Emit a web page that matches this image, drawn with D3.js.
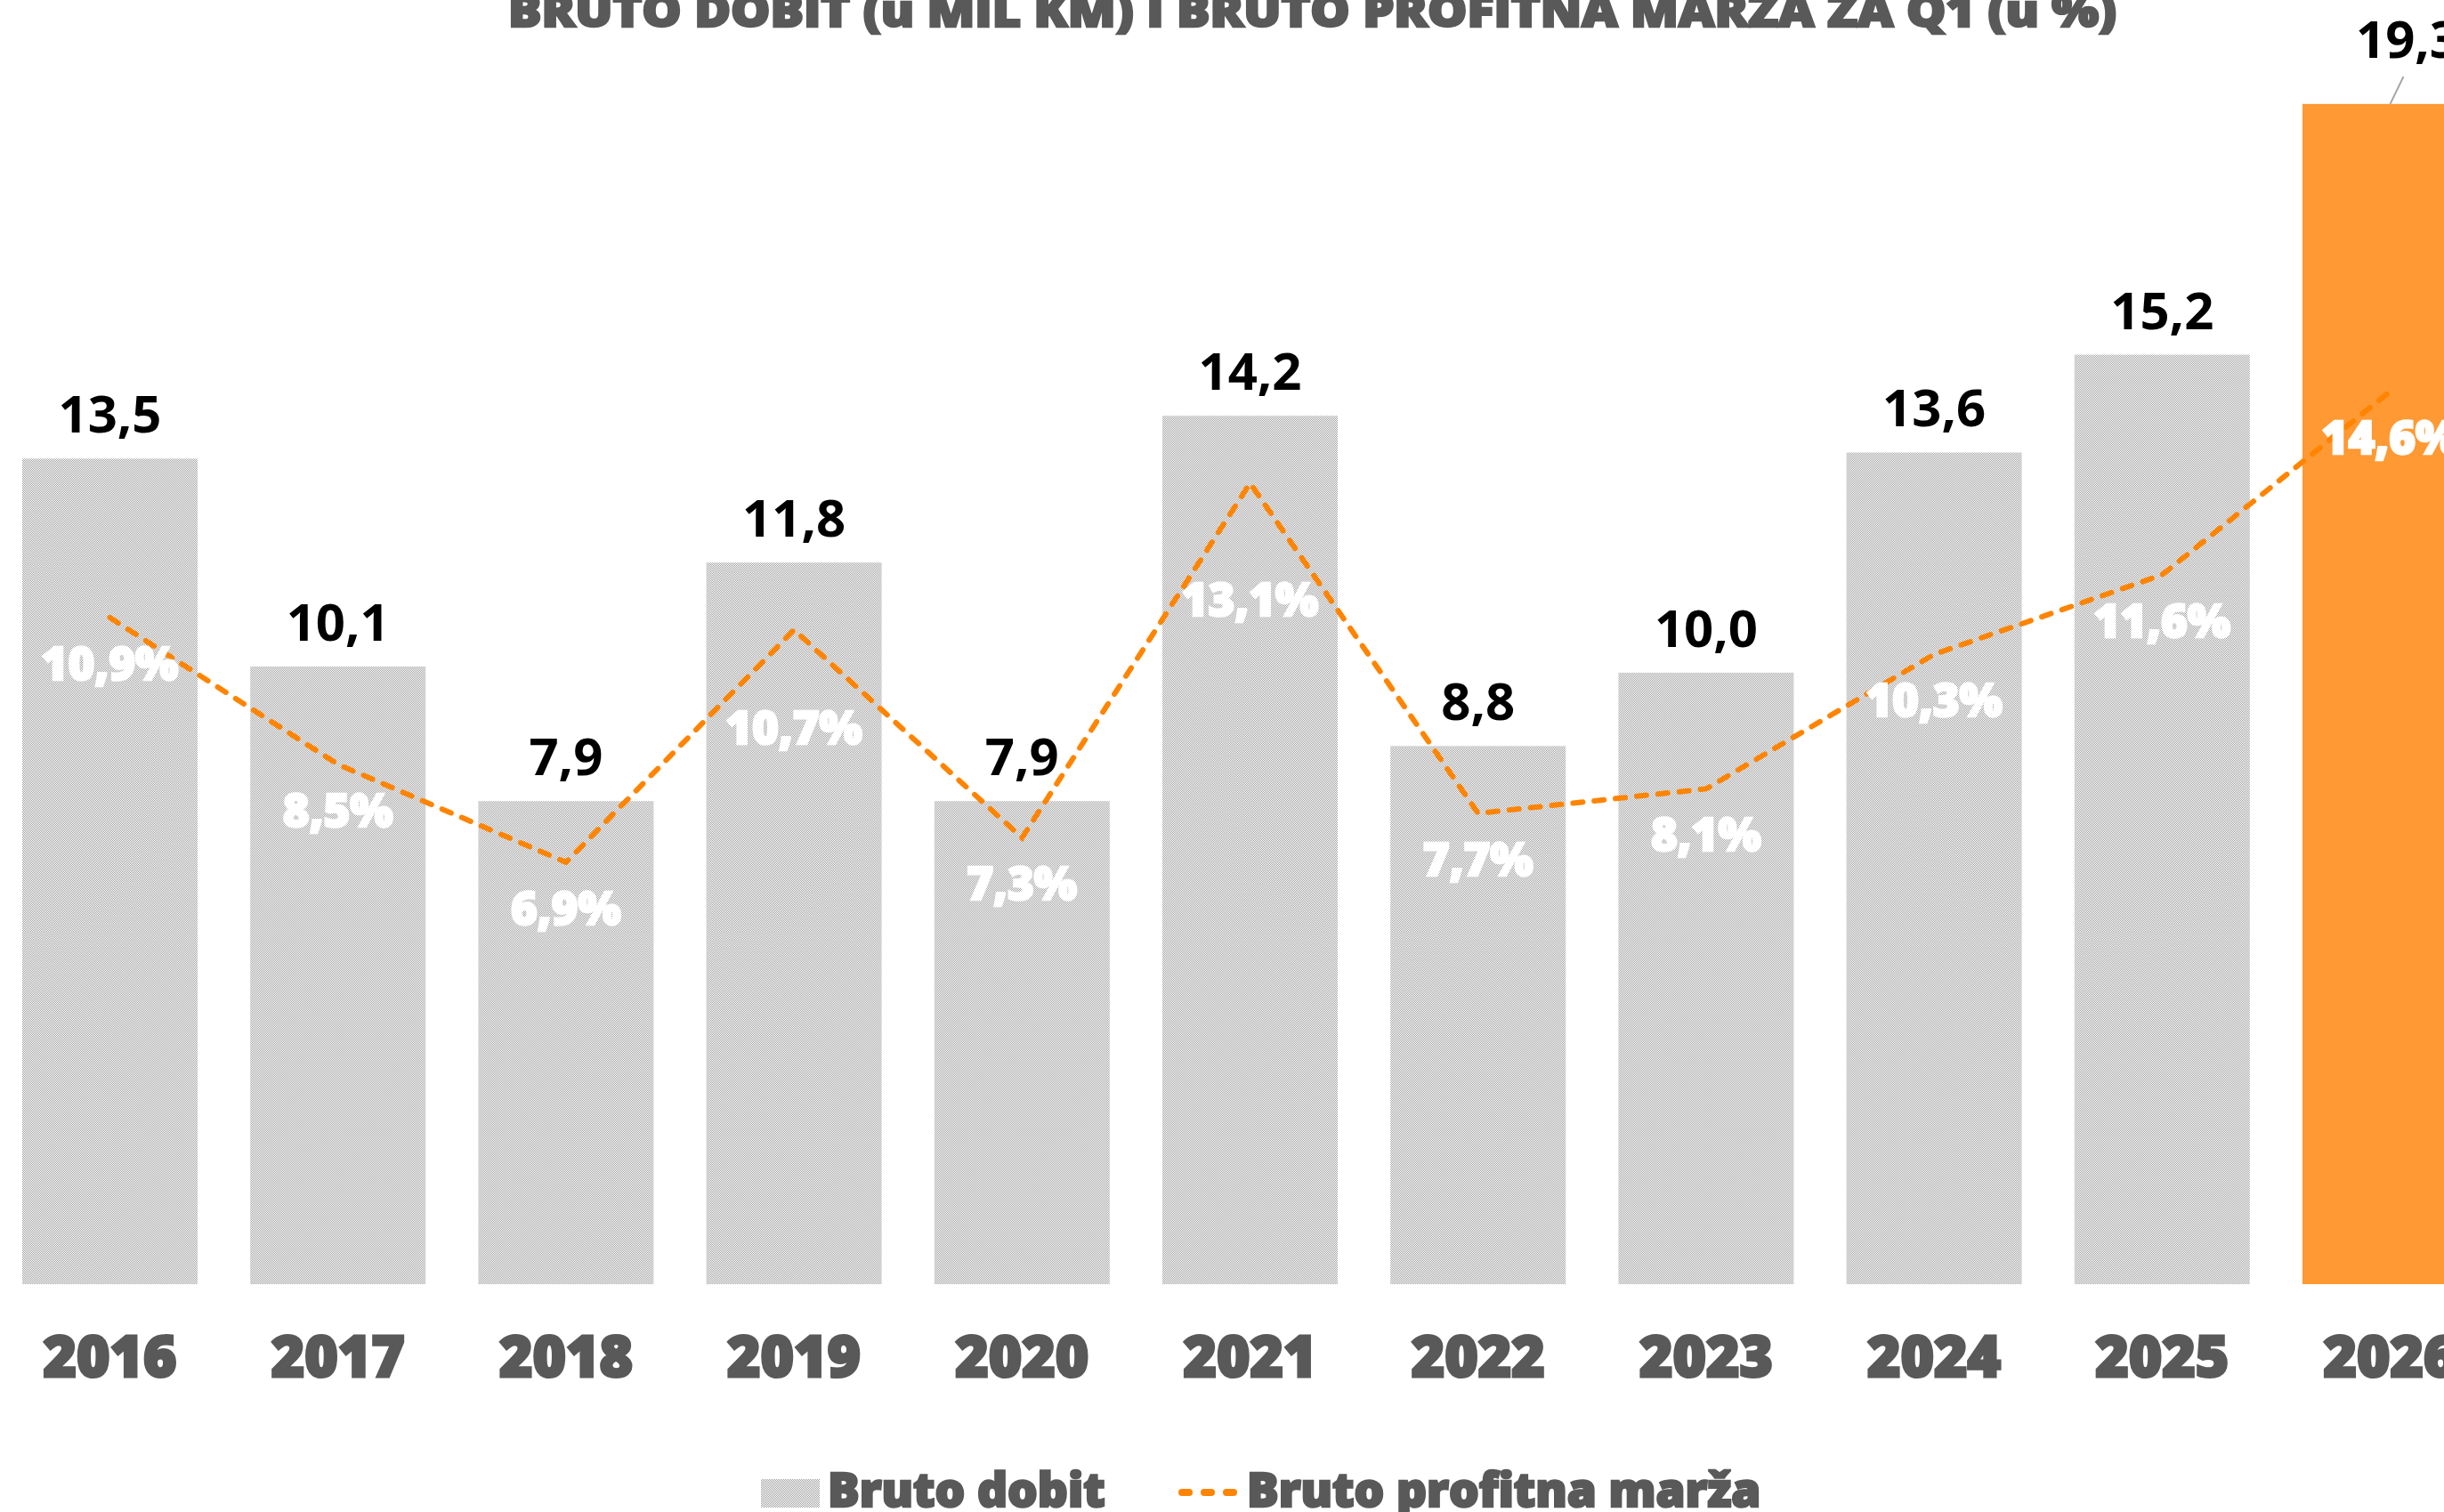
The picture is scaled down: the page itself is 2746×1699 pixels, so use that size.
<!DOCTYPE html>
<html lang="hr">
<head>
<meta charset="utf-8">
<script src="https://d3js.org/d3.v7.min.js"></script>
<title>Bruto dobit i bruto profitna marza</title>
<style>
  body { margin: 0; background: #fff; }
  svg { display: block; }
  .year text { font-family: "Open Sans", sans-serif; font-weight: 800; font-size: 64px; fill: #595959;
    stroke: #595959; stroke-width: 3px; paint-order: stroke; }
  .val { font-family: "Open Sans", sans-serif; font-weight: 700; font-size: 58px; fill: #000; }
  .pct { font-family: "Open Sans", sans-serif; font-weight: 800; font-size: 51px; fill: #fff;
    stroke: #fff; stroke-width: 2.5px; paint-order: stroke; }
  .leg { font-family: "Open Sans", sans-serif; font-weight: 800; font-size: 53px; fill: #595959;
    stroke: #595959; stroke-width: 2.5px; paint-order: stroke; }
</style>
</head>
<body>
<svg id="chart" width="2746" height="1699"></svg>
<script>
// data
const years = ["2016", "2017", "2018", "2019", "2020", "2021", "2022", "2023", "2024", "2025", "2026"];
const grossProfit = [13.5, 10.1, 7.9, 11.8, 7.9, 14.2, 8.8, 10.0, 13.6, 15.2, 19.3];   // mil KM
const grossMargin = [10.9, 8.5, 6.9, 10.7, 7.3, 13.1, 7.7, 8.1, 10.3, 11.6, 14.6];     // %
const titleText = "BRUTO DOBIT (u MIL KM) I BRUTO PROFITNA MARŽA ZA Q1 (u %)";
const legendLabels = ["Bruto dobit", "Bruto profitna marža"];

let svg = d3.select("#chart");
const base = 1443;

// pattern like the excel fill
let defs = svg.append("defs");
let pat = defs.append("pattern").attr("id", "dots")
  .attr("width", 2).attr("height", 2).attr("patternUnits", "userSpaceOnUse");
pat.append("rect").attr("width", 2).attr("height", 2).attr("fill", "#ffffff");
pat.append("rect").attr("width", 1).attr("height", 1).attr("fill", "#a3a3a3");
pat.append("rect").attr("x", 1).attr("y", 1).attr("width", 1).attr("height", 1).attr("fill", "#a3a3a3");

let x = d3.scaleBand().domain(years)
  .range([-4.6, -4.6 + 11 * 256.2])
  .paddingInner(0.231).paddingOuter(0.1155);
let y = d3.scaleLinear().domain([0, 21]).range([base, 0]);

let rows = years.map((yr, i) => ({ year: yr, v: grossProfit[i], m: grossMargin[i], last: i == years.length - 1 }));
const fmt = d => d.toFixed(1).replace(".", ",");

// title (cut at top like the original)
svg.append("text")
  .attr("x", 571).attr("y", 30)
  .attr("textLength", 1807).attr("lengthAdjust", "spacingAndGlyphs")
  .style("font-family", "'Open Sans', sans-serif").style("font-weight", 800)
  .style("font-size", "50px").style("fill", "#595959")
  .style("stroke", "#595959").style("stroke-width", "2.5px").style("paint-order", "stroke")
  .text(titleText);

// bars
svg.append("g").selectAll("rect")
  .data(rows)
  .join("rect")
  .attr("x", d => x(d.year))
  .attr("y", d => y(d.v))
  .attr("width", x.bandwidth())
  .attr("height", d => base - y(d.v))
  .attr("fill", d => d.last ? "#ff9933" : "url(#dots)");

// margin line
let line = d3.line()
  .x(d => x(d.year) + x.bandwidth() / 2)
  .y(d => y(d.m));
svg.append("path")
  .datum(rows)
  .attr("d", line)
  .attr("fill", "none")
  .attr("stroke", "#ff8400")
  .attr("stroke-width", 6)
  .attr("stroke-linecap", "round")
  .attr("stroke-dasharray", "11 13");

// value labels above the bars
svg.append("g").selectAll("text")
  .data(rows.filter(d => !d.last))
  .join("text")
  .attr("class", "val")
  .attr("text-anchor", "middle")
  .attr("x", d => x(d.year) + x.bandwidth() / 2)
  .attr("y", d => y(d.v) - 29)
  .text(d => fmt(d.v));

// 2026 label was moved up with a leader line
let lastRow = rows[rows.length - 1];
let lx = x(lastRow.year) + x.bandwidth() / 2;
svg.append("line")
  .attr("x1", lx + 15).attr("y1", 86)
  .attr("x2", lx).attr("y2", y(lastRow.v))
  .attr("stroke", "#a6a6a6").attr("stroke-width", 2);
svg.append("text").attr("class", "val")
  .attr("x", 2647).attr("y", 65)
  .text(fmt(lastRow.v));

// percentage labels (2019 and 2021 were pushed down in the original)
let nudge = { "2019": 58, "2021": 79 };
svg.append("g").selectAll("text")
  .data(rows)
  .join("text")
  .attr("class", "pct")
  .attr("text-anchor", "middle")
  .attr("x", d => x(d.year) + x.bandwidth() / 2)
  .attr("y", d => y(d.m) + 70 + (nudge[d.year] || 0))
  .text(d => fmt(d.m) + "%");

// year axis
let ax = svg.append("g").attr("class", "year")
  .attr("transform", "translate(0," + base + ")")
  .call(d3.axisBottom(x).tickSize(0));
ax.select(".domain").remove();
ax.selectAll("text").attr("y", 104).attr("dy", 0);

// legend
let leg = svg.append("g");
leg.append("rect").attr("x", 855).attr("y", 1662).attr("width", 66).attr("height", 32).attr("fill", "url(#dots)");
leg.append("text").attr("class", "leg").attr("x", 930).attr("y", 1693).text(legendLabels[0]);
leg.append("line").attr("x1", 1328).attr("x2", 1386).attr("y1", 1677).attr("y2", 1677)
  .attr("stroke", "#ff8400").attr("stroke-width", 8)
  .attr("stroke-linecap", "round").attr("stroke-dasharray", "8 17");
leg.append("text").attr("class", "leg").attr("x", 1401).attr("y", 1693).text(legendLabels[1]);
</script>
</body>
</html>
